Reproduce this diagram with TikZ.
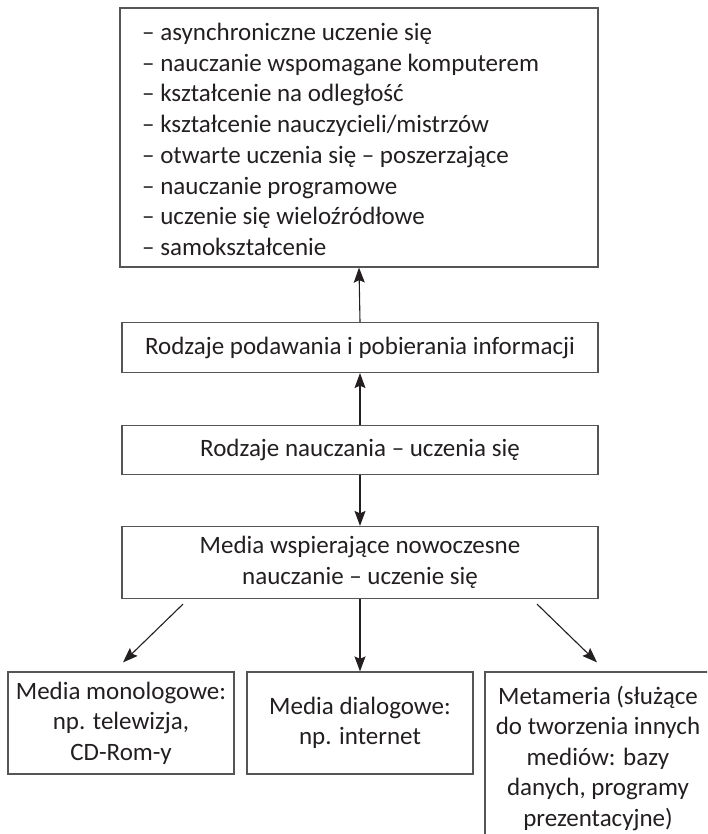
\documentclass[tikz,border=0pt]{standalone}
\usepackage{fontspec}
\setmainfont{Carlito}
\usetikzlibrary{arrows.meta}
\definecolor{ink}{HTML}{231F20}
\definecolor{frame}{HTML}{555555}
\begin{document}
\begin{tikzpicture}[x=1pt,y=-1pt,
  box/.style={draw=frame, line width=1.2pt, inner sep=0pt, text=ink},
  conn/.style={draw=ink, line width=1.1pt, -{Stealth[length=15pt,width=11pt,inset=2.5pt]}},
  big/.style={font=\fontsize{25}{30.7}\selectfont, text=ink},
  mid/.style={font=\fontsize{25}{31}\selectfont, text=ink, align=center},
  low/.style={font=\fontsize{25}{30.5}\selectfont, text=ink, align=center}
]
\useasboundingbox (0,0) rectangle (707,834);
\clip (0,0) rectangle (707,834);

% list of forms of learning
\node[box, minimum width=478pt, minimum height=259pt] (list) at (359,137.5) {};
\node[big, anchor=north west, align=left, inner sep=0pt] (items) at (142,23) {%
– asynchroniczne uczenie się\\
– nauczanie wspomagane komputerem\\
– kształcenie na odległość\\
– kształcenie nauczycieli/mistrzów\\
– otwarte uczenia się – poszerzające\\
– nauczanie programowe\\
– uczenie się wieloźródłowe\\
– samokształcenie};

% middle chain
\node[box, big, minimum width=476pt, minimum height=50pt] (info) at (360,347.5) {Rodzaje podawania i pobierania informacji};
\node[box, big, minimum width=476pt, minimum height=49pt] (kinds) at (360,450) {Rodzaje nauczania – uczenia się};
\node[box, mid, minimum width=476pt, minimum height=72pt] (media) at (360,562.5) {Media wspierające nowoczesne\\nauczanie – uczenie się};

% bottom row
\node[box, low, minimum width=226pt, minimum height=102pt] (mono) at (121,723) {Media monologowe:\\np. telewizja,\\CD-Rom-y};
\node[box, low, minimum width=226pt, minimum height=102pt] (dialog) at (360,723) {Media dialogowe:\\np. internet};
\node[box, minimum width=224pt, minimum height=180pt] (meta) at (597,762) {};
\node[low, inner sep=0pt] (metatext) at (598,758) {Metameria (służące\\do tworzenia innych\\mediów: bazy\\danych, programy\\prezentacyjne)};

% connectors
\draw[conn] (info.north) -- (list.south);
\draw[conn] (kinds.north) -- (info.south);
\draw[conn] (kinds.south) -- (media.north);
\draw[conn] ([xshift=-177pt,yshift=-5pt]media.south) -- ([xshift=2pt,yshift=9pt]mono.north);
\draw[conn] (media.south) -- (dialog.north);
\draw[conn] ([xshift=177pt,yshift=-5pt]media.south) -- ([yshift=9pt]meta.north);
\end{tikzpicture}
\end{document}
